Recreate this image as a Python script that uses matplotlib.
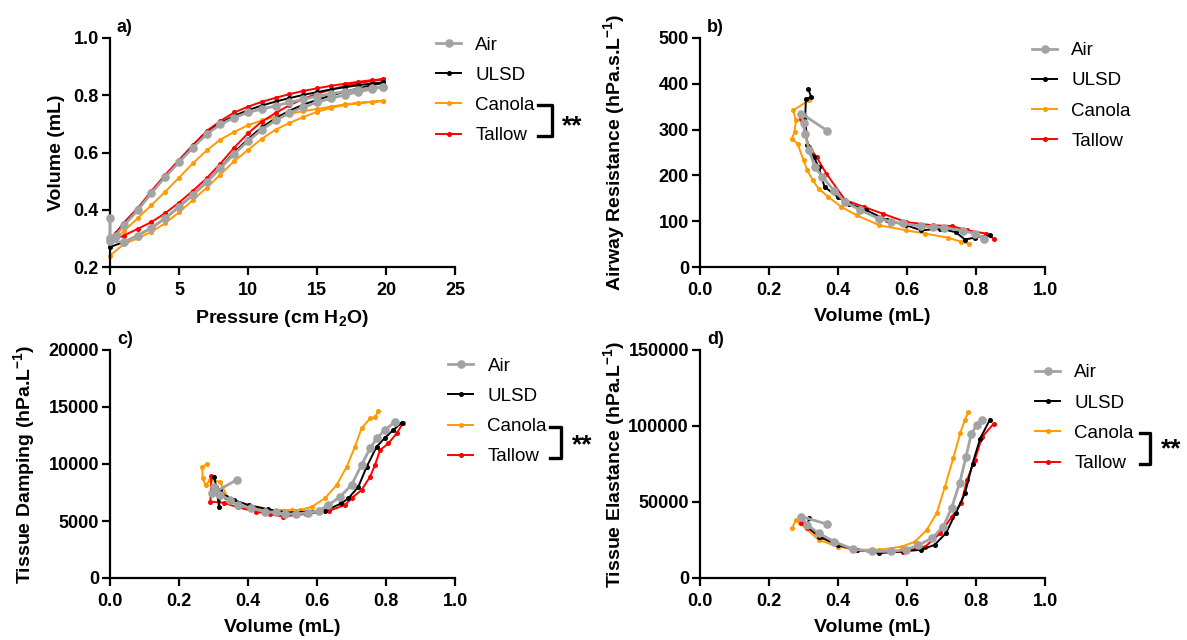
import matplotlib
matplotlib.use("Agg")
import matplotlib.pyplot as plt
from matplotlib.ticker import FormatStrFormatter

plt.rcParams['font.family'] = ['Liberation Sans', 'DejaVu Sans']
plt.rcParams['mathtext.fontset'] = 'custom'
plt.rcParams['mathtext.rm'] = 'Liberation Sans'
plt.rcParams['mathtext.bf'] = 'Liberation Sans:bold'

names = ['Air', 'ULSD', 'Canola', 'Tallow']
colors = {'Air': '#a3a3a3', 'ULSD': '#000000', 'Canola': '#ff9a00', 'Tallow': '#ff0000'}

# a) pressure-volume loops (inflation then deflation)
infl_p = [0, 1, 2, 3, 4, 5, 6, 7, 8, 9, 10, 11, 12, 13, 14, 15, 16, 17, 18, 19, 19.8]
defl_p = [19.8, 19, 18, 17, 16, 15, 14, 13, 12, 11, 10, 9, 8, 7, 6, 5, 4, 3, 2, 1, 0.4, 0]
air_infl_v = [0.29, 0.287, 0.31, 0.337, 0.37, 0.41, 0.452, 0.496, 0.545, 0.595, 0.64,
              0.68, 0.712, 0.738, 0.758, 0.775, 0.789, 0.801, 0.812, 0.822, 0.83]
air_defl_v = [0.83, 0.826, 0.82, 0.813, 0.805, 0.796, 0.786, 0.775, 0.763, 0.752, 0.74,
              0.722, 0.698, 0.664, 0.617, 0.566, 0.515, 0.458, 0.398, 0.345, 0.31, 0.30]
ulsd_infl_v = [0.27, 0.287, 0.31, 0.336, 0.37, 0.41, 0.452, 0.497, 0.547, 0.6, 0.647,
               0.688, 0.72, 0.746, 0.767, 0.784, 0.799, 0.812, 0.824, 0.835, 0.843]
ulsd_defl_v = [0.845, 0.841, 0.835, 0.828, 0.82, 0.811, 0.801, 0.79, 0.778, 0.764, 0.748,
               0.728, 0.703, 0.668, 0.62, 0.568, 0.517, 0.46, 0.4, 0.348, 0.315, 0.29]
canola_infl_v = [0.24, 0.28, 0.3, 0.323, 0.353, 0.391, 0.434, 0.477, 0.523, 0.57, 0.609,
                 0.648, 0.68, 0.703, 0.724, 0.742, 0.756, 0.766, 0.773, 0.777, 0.78]
canola_defl_v = [0.78, 0.777, 0.773, 0.768, 0.76, 0.752, 0.744, 0.735, 0.725, 0.712, 0.695,
                 0.672, 0.645, 0.607, 0.562, 0.512, 0.463, 0.416, 0.37, 0.325, 0.30, 0.285]
tallow_infl_v = [0.29, 0.31, 0.333, 0.357, 0.388, 0.425, 0.466, 0.51, 0.561, 0.617, 0.667,
                 0.708, 0.738, 0.765, 0.787, 0.805, 0.82, 0.832, 0.842, 0.85, 0.856]
tallow_defl_v = [0.856, 0.853, 0.847, 0.84, 0.833, 0.824, 0.815, 0.804, 0.791, 0.777, 0.76,
                 0.74, 0.71, 0.675, 0.626, 0.574, 0.522, 0.465, 0.405, 0.355, 0.318, 0.30]
air_spike_v = 0.37

# b) airway resistance vs volume
air_b_vol = [0.368, 0.294, 0.3, 0.305, 0.316, 0.333, 0.355, 0.388, 0.421, 0.465, 0.52,
             0.555, 0.587, 0.642, 0.675, 0.708, 0.763, 0.796, 0.824]
air_b_res = [298, 335, 315, 291, 255, 218, 197, 167, 142, 124, 105, 99, 95, 89, 88, 86, 79, 73, 62]
ulsd_b_vol = [0.314, 0.322, 0.307, 0.305, 0.311, 0.33, 0.344, 0.361, 0.399, 0.432, 0.482,
              0.542, 0.598, 0.642, 0.697, 0.741, 0.768, 0.796, 0.84]
ulsd_b_res = [389, 371, 367, 327, 266, 240, 218, 175, 153, 138, 124, 102, 91, 80, 84, 76, 60, 64, 69]
canola_b_vol = [0.316, 0.27, 0.278, 0.274, 0.266, 0.283, 0.3, 0.311, 0.327, 0.344, 0.372,
                0.41, 0.454, 0.52, 0.598, 0.653, 0.719, 0.757, 0.78]
canola_b_res = [364, 342, 320, 295, 280, 269, 233, 211, 189, 171, 153, 131, 113, 91, 80, 73, 64, 55, 51]
tallow_b_vol = [0.294, 0.305, 0.316, 0.338, 0.366, 0.421, 0.476, 0.531, 0.598, 0.675,
                0.73, 0.774, 0.829, 0.851]
tallow_b_res = [324, 290, 262, 240, 204, 146, 131, 116, 98, 91, 89.5, 80, 73, 62]

# c) tissue damping vs volume
air_c_vol = [0.367, 0.297, 0.302, 0.32, 0.347, 0.372, 0.41, 0.449, 0.48, 0.507, 0.54,
             0.575, 0.605, 0.633, 0.667, 0.70, 0.729, 0.754, 0.773, 0.797, 0.826]
air_c_damp = [8600, 7420, 8000, 7300, 6840, 6400, 6110, 5820, 5750, 5610, 5620,
              5730, 5900, 6400, 7130, 8160, 9910, 11380, 12250, 12980, 13710]
ulsd_c_vol = [0.302, 0.308, 0.316, 0.32, 0.336, 0.358, 0.402, 0.458, 0.513, 0.569, 0.624,
              0.671, 0.691, 0.72, 0.744, 0.773, 0.797, 0.821, 0.845]
ulsd_c_damp = [8880, 8000, 6260, 7700, 7130, 6840, 6400, 6030, 5740, 5820, 5910,
               6550, 6990, 8010, 9760, 11520, 12300, 12980, 13620]
canola_c_vol = [0.28, 0.267, 0.269, 0.277, 0.291, 0.319, 0.347, 0.391, 0.458, 0.527, 0.551,
                0.585, 0.623, 0.657, 0.686, 0.71, 0.729, 0.754, 0.768, 0.778]
canola_c_damp = [9990, 9750, 8730, 8150, 8590, 8440, 6700, 6260, 5970, 5970, 5960,
                 6250, 6990, 8160, 9760, 11520, 13130, 14010, 14100, 14680]
tallow_c_vol = [0.294, 0.291, 0.33, 0.37, 0.424, 0.463, 0.502, 0.569, 0.636, 0.681, 0.70,
                0.729, 0.754, 0.768, 0.783, 0.807, 0.831, 0.85]
tallow_c_damp = [8940, 6700, 6600, 6200, 5820, 5600, 5390, 5620, 5910, 6400, 6990,
                 7720, 8890, 9910, 11230, 11810, 12690, 13620]

# d) tissue elastance vs volume
air_d_vol = [0.367, 0.294, 0.311, 0.344, 0.388, 0.443, 0.498, 0.553, 0.598, 0.633, 0.672,
             0.705, 0.729, 0.753, 0.771, 0.786, 0.802, 0.818]
air_d_el = [35500, 40400, 34900, 29500, 24000, 19000, 17500, 17500, 18600, 21700, 26100,
            33800, 45900, 62800, 79700, 94500, 100500, 103700]
ulsd_d_vol = [0.316, 0.311, 0.344, 0.399, 0.454, 0.52, 0.587, 0.642, 0.68, 0.713, 0.741,
              0.768, 0.79, 0.812, 0.84]
ulsd_d_el = [39300, 33800, 27300, 21800, 18600, 16400, 17500, 18600, 21800, 29500, 42600,
             55700, 75300, 91700, 104100]
canola_d_vol = [0.267, 0.278, 0.29, 0.344, 0.399, 0.454, 0.52, 0.585, 0.623, 0.657, 0.686,
                0.71, 0.734, 0.754, 0.768, 0.778]
canola_d_el = [32700, 38200, 36000, 25100, 20700, 18600, 18600, 20600, 23900, 31600, 42600,
               60100, 78700, 95200, 104000, 109400]
tallow_d_vol = [0.294, 0.311, 0.35, 0.40, 0.454, 0.52, 0.587, 0.653, 0.697, 0.73, 0.757,
                0.774, 0.796, 0.818, 0.851]
tallow_d_el = [36000, 33000, 27000, 21500, 18200, 17000, 17200, 20700, 29500, 40400, 49100,
               64400, 77500, 92800, 101500]

panel_a = {
    'Air': (infl_p + defl_p + [0], air_infl_v + air_defl_v + [air_spike_v]),
    'ULSD': (infl_p + defl_p, ulsd_infl_v + ulsd_defl_v),
    'Canola': (infl_p + defl_p, canola_infl_v + canola_defl_v),
    'Tallow': (infl_p + defl_p, tallow_infl_v + tallow_defl_v),
}
panel_b = {'Air': (air_b_vol, air_b_res), 'ULSD': (ulsd_b_vol, ulsd_b_res),
           'Canola': (canola_b_vol, canola_b_res), 'Tallow': (tallow_b_vol, tallow_b_res)}
panel_c = {'Air': (air_c_vol, air_c_damp), 'ULSD': (ulsd_c_vol, ulsd_c_damp),
           'Canola': (canola_c_vol, canola_c_damp), 'Tallow': (tallow_c_vol, tallow_c_damp)}
panel_d = {'Air': (air_d_vol, air_d_el), 'ULSD': (ulsd_d_vol, ulsd_d_el),
           'Canola': (canola_d_vol, canola_d_el), 'Tallow': (tallow_d_vol, tallow_d_el)}

zorders = {'Canola': 2, 'Tallow': 3, 'ULSD': 4, 'Air': 5}

fig = plt.figure(figsize=(11.87, 6.4), dpi=100)
W, H = 1187, 640


def make_axes(left, top, right, bottom):
    return fig.add_axes([left / W, 1 - bottom / H, (right - left) / W, (bottom - top) / H])


def style(ax, xlim, xticks, ylim, yticks, xlabel, ylabel, letter, ylab_x):
    ax.set_xlim(*xlim)
    ax.set_ylim(*ylim)
    ax.set_xticks(xticks)
    ax.set_yticks(yticks)
    for s in ['top', 'right']:
        ax.spines[s].set_visible(False)
    for s in ['left', 'bottom']:
        ax.spines[s].set_linewidth(1.6)
    ax.tick_params(direction='out', length=6, width=1.6, labelsize=13)
    ax.tick_params(axis='x', pad=5)
    ax.tick_params(axis='y', pad=2)
    for lab in ax.get_xticklabels() + ax.get_yticklabels():
        lab.set_fontweight('bold')
    ax.set_xlabel(xlabel, fontsize=14, fontweight='bold', labelpad=6)
    ax.set_ylabel(ylabel, fontsize=14, fontweight='bold')
    ax.yaxis.set_label_coords(ylab_x, 0.5)
    ax.text(0.02, 1.045, letter, transform=ax.transAxes, fontsize=13,
            fontweight='bold', ha='left', va='center')


def draw(ax, data):
    for n in names:
        x, y = data[n]
        big = n == 'Air'
        ax.plot(x, y, color=colors[n], lw=2.0 if big else 1.4, marker='o',
                ms=5.2 if big else 2.6, label=n, zorder=zorders[n], clip_on=False)


def legend(ax, x, y, bracket=None):
    ax.legend(loc='upper left', bbox_to_anchor=(x, y), frameon=False, fontsize=13.5,
              handlelength=1.35, handletextpad=0.75, labelspacing=0.7,
              borderpad=0, borderaxespad=0)
    if bracket is not None:
        bx0, bx1, by0, by1, sx, sy = bracket
        ax.plot([bx0, bx1, bx1, bx0], [by0, by0, by1, by1], color='black', lw=2.4,
                transform=ax.transAxes, clip_on=False)
        ax.text(sx, sy, '**', transform=ax.transAxes, fontsize=19, fontweight='bold',
                ha='center', va='center')


ax_a = make_axes(110, 38, 455, 267)
draw(ax_a, panel_a)
style(ax_a, (0, 25), [0, 5, 10, 15, 20, 25], (0.2, 1.0), [0.2, 0.4, 0.6, 0.8, 1.0],
      r'Pressure (cm H$_\mathbf{2}$O)', 'Volume (mL)', 'a)', -0.13)
ax_a.yaxis.set_major_formatter(FormatStrFormatter('%.1f'))
legend(ax_a, 0.945, 1.007, (1.24, 1.28, 0.707, 0.572, 1.34, 0.615))

ax_b = make_axes(700, 38, 1045, 267)
draw(ax_b, panel_b)
style(ax_b, (0, 1.0), [0, 0.2, 0.4, 0.6, 0.8, 1.0], (0, 500), [0, 100, 200, 300, 400, 500],
      'Volume (mL)', r'Airway Resistance (hPa.s.L$^{\mathbf{-1}}$)', 'b)', -0.209)
ax_b.xaxis.set_major_formatter(FormatStrFormatter('%.1f'))
legend(ax_b, 0.962, 0.982)

ax_c = make_axes(110, 350, 455, 578)
draw(ax_c, panel_c)
style(ax_c, (0, 1.0), [0, 0.2, 0.4, 0.6, 0.8, 1.0], (0, 20000), [0, 5000, 10000, 15000, 20000],
      'Volume (mL)', r'Tissue Damping (hPa.L$^{\mathbf{-1}}$)', 'c)', -0.209)
ax_c.xaxis.set_major_formatter(FormatStrFormatter('%.1f'))
legend(ax_c, 0.98, 0.967, (1.275, 1.307, 0.662, 0.526, 1.37, 0.58))

ax_d = make_axes(700, 350, 1045, 578)
draw(ax_d, panel_d)
style(ax_d, (0, 1.0), [0, 0.2, 0.4, 0.6, 0.8, 1.0], (0, 150000), [0, 50000, 100000, 150000],
      'Volume (mL)', r'Tissue Elastance (hPa.L$^{\mathbf{-1}}$)', 'd)', -0.209)
ax_d.xaxis.set_major_formatter(FormatStrFormatter('%.1f'))
legend(ax_d, 0.971, 0.937, (1.275, 1.305, 0.636, 0.50, 1.365, 0.563))

fig.savefig('out.png', dpi=100)
